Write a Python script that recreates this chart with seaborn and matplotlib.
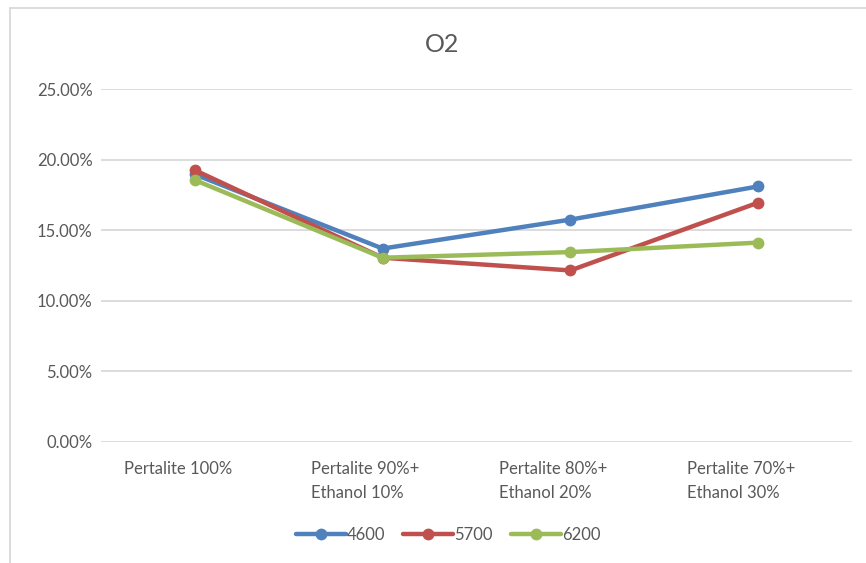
import matplotlib
matplotlib.use("Agg")
import matplotlib.pyplot as plt
import matplotlib.transforms as mtransforms
from matplotlib.lines import Line2D
from matplotlib.ticker import PercentFormatter
import seaborn as sns
import pandas as pd

categories = ["Pertalite 100%", "Pertalite 90%+\nEthanol 10%",
              "Pertalite 80%+\nEthanol 20%", "Pertalite 70%+\nEthanol 30%"]
series_names = ["4600", "5700", "6200"]
s4600 = [18.95, 13.70, 15.75, 18.10]
s5700 = [19.25, 13.05, 12.15, 16.95]
s6200 = [18.55, 13.05, 13.45, 14.12]
colors = ["#4F81BD", "#C0504D", "#9BBB59"]

sns.set_theme(style="white")
plt.rcParams["font.family"] = ["Lato", "DejaVu Sans"]

rows = []
for name, vals in zip(series_names, [s4600, s5700, s6200]):
    for i, v in enumerate(vals):
        rows.append({"pos": i, "value": v / 100.0, "series": name})
df = pd.DataFrame(rows)

fig = plt.figure(figsize=(8.66, 5.63), dpi=100)
ax = fig.add_axes([101/866, 1-442/563, (852-101)/866, (442-89)/563])

sns.lineplot(data=df, x="pos", y="value", hue="series", palette=colors,
             marker="o", markersize=8.5, markeredgewidth=0, linewidth=3.2,
             ax=ax, legend=False, sort=False)

ax.set_xlim(-0.5, len(categories) - 0.5)
ax.set_ylim(0, 0.25)
ax.set_yticks([0, 0.05, 0.10, 0.15, 0.20, 0.25])
ax.yaxis.set_major_formatter(PercentFormatter(1.0, decimals=2))
ax.set_xticks(range(len(categories)))
ax.set_xticklabels(categories, multialignment="left")
ax.set_xlabel("")
ax.set_ylabel("")
ax.grid(axis="y", color="#d9d9d9", linewidth=1.3)
ax.grid(axis="x", visible=False)
for s in ax.spines.values():
    s.set_visible(False)
ax.tick_params(axis="both", length=0, labelsize=12, colors="#595959")
ax.tick_params(axis="y", pad=6)
ax.tick_params(axis="x", pad=14)
offset = mtransforms.ScaledTranslation(-17/100, 0, fig.dpi_scale_trans)
for lab in ax.get_xticklabels():
    lab.set_transform(lab.get_transform() + offset)
    lab.set_verticalalignment("top")
    lab.set_linespacing(1.55)

fig.text(442/866, 1-45/563, "O2", ha="center", va="center",
         fontsize=18, color="#595959")

# chart border (left and top)
fig.add_artist(Line2D([10/866, 10/866], [0, 1-8/563], transform=fig.transFigure,
                      color="#d9d9d9", linewidth=1.3))
fig.add_artist(Line2D([10/866, 1], [1-8/563, 1-8/563], transform=fig.transFigure,
                      color="#d9d9d9", linewidth=1.3))

handles = [Line2D([], [], color=c, marker="o", markersize=8.5, markeredgewidth=0,
                  linewidth=3.2) for c in colors]
leg = fig.legend(handles, series_names, loc="center", ncol=3,
                 bbox_to_anchor=(448/866, 1-535/563), frameon=False,
                 fontsize=12, handlelength=3.0, handletextpad=0.05,
                 columnspacing=1.1)
for t in leg.get_texts():
    t.set_color("#595959")

fig.savefig("out.png", dpi=100)
